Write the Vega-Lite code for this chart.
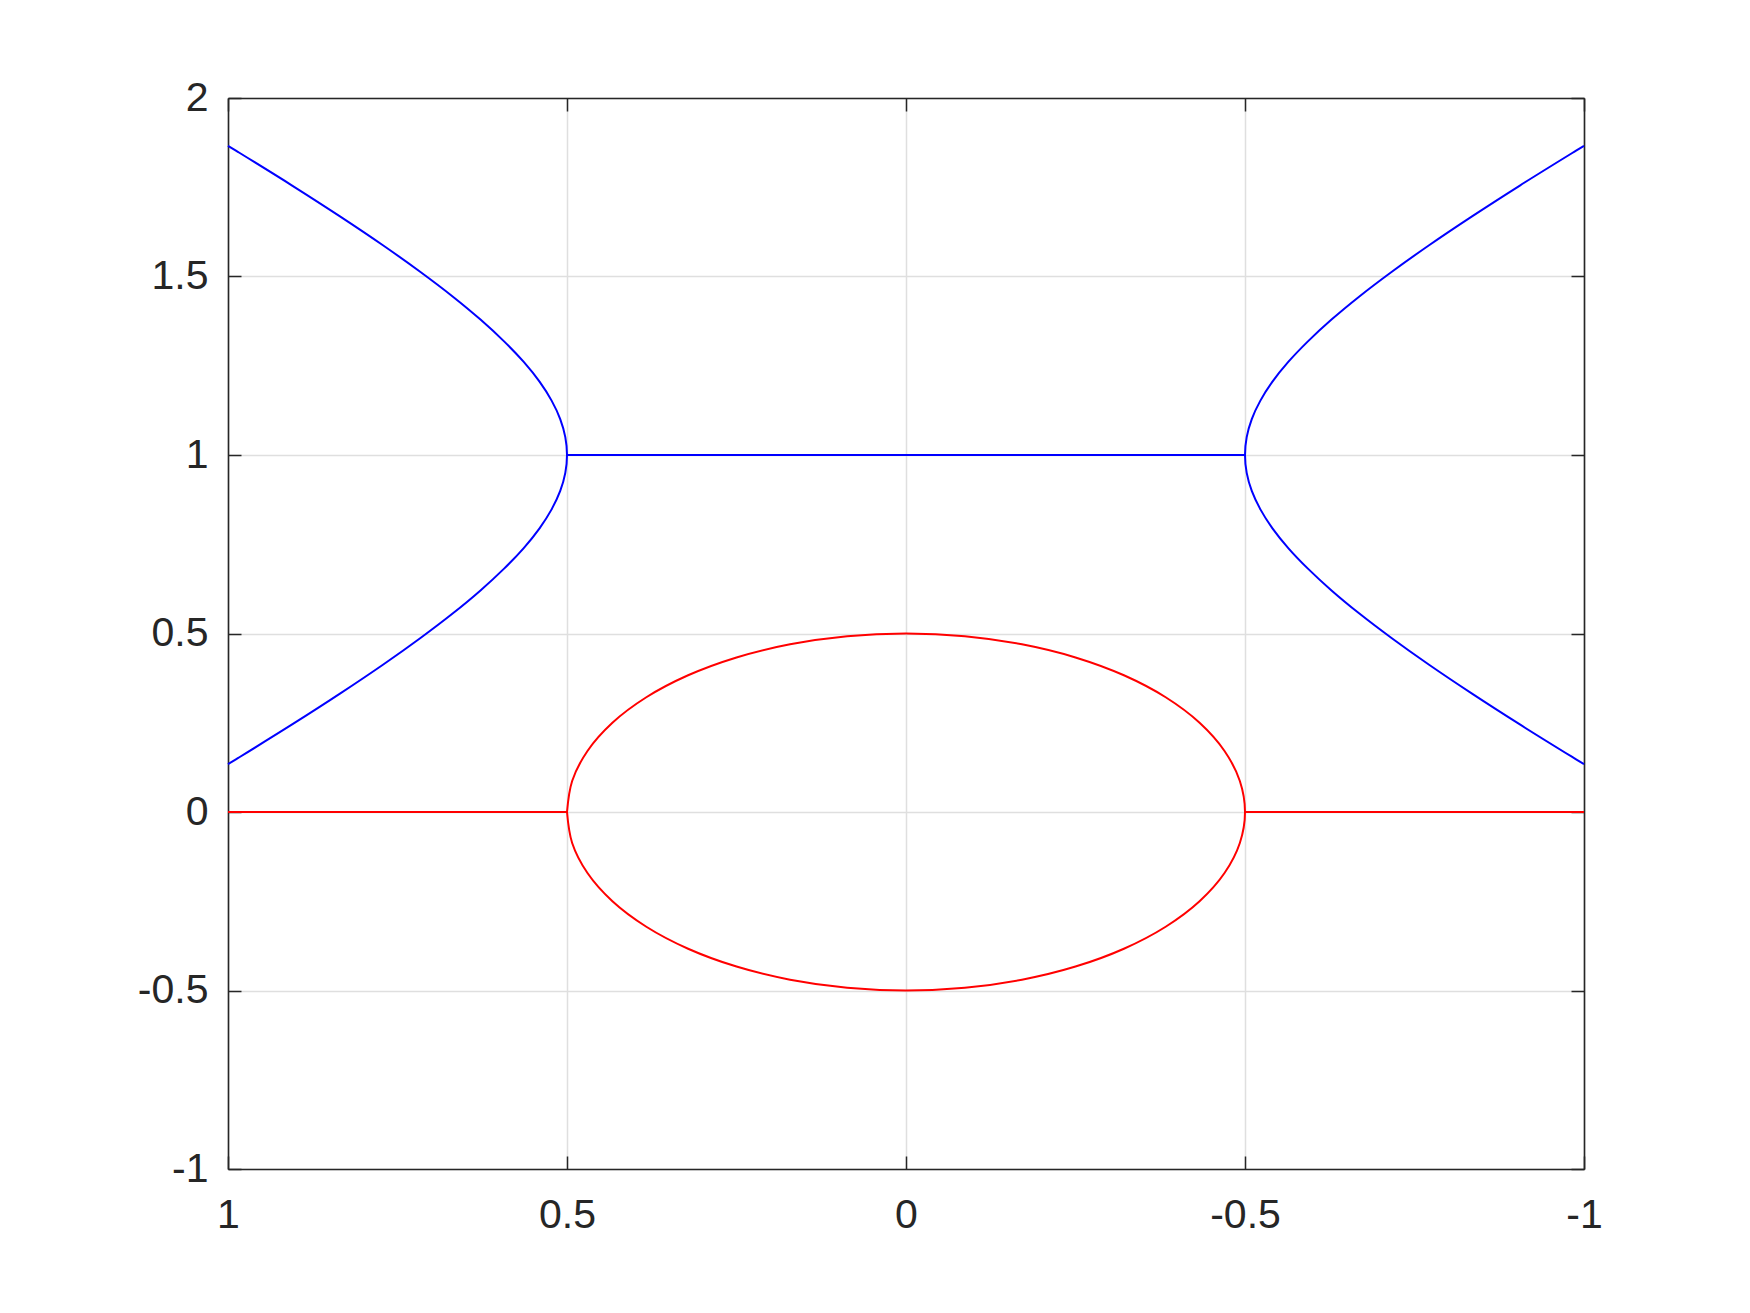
{
  "$schema": "https://vega.github.io/schema/vega-lite/v6.json",
  "width": 1356,
  "height": 1071,
  "autosize": {"type": "none"},
  "padding": {"left": 228, "top": 98, "right": 166, "bottom": 144},
  "background": "white",
  "config": {
    "view": {"stroke": null},
    "axis": {
      "domainColor": "#262626",
      "domainWidth": 1.6,
      "tickColor": "#262626",
      "tickWidth": 1.5,
      "tickSize": -13,
      "gridColor": "#dfdfdf",
      "gridWidth": 1.5,
      "labelFont": "Liberation Sans",
      "labelFontSize": 41,
      "labelColor": "#262626",
      "labelFlush": false,
      "labelOverlap": false,
      "labelBound": false,
      "title": null
    }
  },
  "datasets": {
    "red": [
      {"g": "c", "i": 0, "x": 0.5, "y": 0},
      {"g": "c", "i": 1, "x": 0.4924, "y": 0.0868},
      {"g": "c", "i": 2, "x": 0.4698, "y": 0.1710},
      {"g": "c", "i": 3, "x": 0.4330, "y": 0.25},
      {"g": "c", "i": 4, "x": 0.3830, "y": 0.3214},
      {"g": "c", "i": 5, "x": 0.3214, "y": 0.3830},
      {"g": "c", "i": 6, "x": 0.25, "y": 0.4330},
      {"g": "c", "i": 7, "x": 0.1710, "y": 0.4698},
      {"g": "c", "i": 8, "x": 0.0868, "y": 0.4924},
      {"g": "c", "i": 9, "x": 0, "y": 0.5},
      {"g": "c", "i": 10, "x": -0.0868, "y": 0.4924},
      {"g": "c", "i": 11, "x": -0.1710, "y": 0.4698},
      {"g": "c", "i": 12, "x": -0.25, "y": 0.4330},
      {"g": "c", "i": 13, "x": -0.3214, "y": 0.3830},
      {"g": "c", "i": 14, "x": -0.3830, "y": 0.3214},
      {"g": "c", "i": 15, "x": -0.4330, "y": 0.25},
      {"g": "c", "i": 16, "x": -0.4698, "y": 0.1710},
      {"g": "c", "i": 17, "x": -0.4924, "y": 0.0868},
      {"g": "c", "i": 18, "x": -0.5, "y": 0},
      {"g": "c", "i": 19, "x": -0.4924, "y": -0.0868},
      {"g": "c", "i": 20, "x": -0.4698, "y": -0.1710},
      {"g": "c", "i": 21, "x": -0.4330, "y": -0.25},
      {"g": "c", "i": 22, "x": -0.3830, "y": -0.3214},
      {"g": "c", "i": 23, "x": -0.3214, "y": -0.3830},
      {"g": "c", "i": 24, "x": -0.25, "y": -0.4330},
      {"g": "c", "i": 25, "x": -0.1710, "y": -0.4698},
      {"g": "c", "i": 26, "x": -0.0868, "y": -0.4924},
      {"g": "c", "i": 27, "x": 0, "y": -0.5},
      {"g": "c", "i": 28, "x": 0.0868, "y": -0.4924},
      {"g": "c", "i": 29, "x": 0.1710, "y": -0.4698},
      {"g": "c", "i": 30, "x": 0.25, "y": -0.4330},
      {"g": "c", "i": 31, "x": 0.3214, "y": -0.3830},
      {"g": "c", "i": 32, "x": 0.3830, "y": -0.3214},
      {"g": "c", "i": 33, "x": 0.4330, "y": -0.25},
      {"g": "c", "i": 34, "x": 0.4698, "y": -0.1710},
      {"g": "c", "i": 35, "x": 0.4924, "y": -0.0868},
      {"g": "c", "i": 36, "x": 0.5, "y": 0},
      {"g": "l", "i": 0, "x": 1, "y": 0},
      {"g": "l", "i": 1, "x": 0.5, "y": 0},
      {"g": "r", "i": 0, "x": -0.5, "y": 0},
      {"g": "r", "i": 1, "x": -1, "y": 0}
    ],
    "blue": [
      {"g": "L", "i": 0, "x": 1.0, "y": 0.1340},
      {"g": "L", "i": 1, "x": 0.9855, "y": 0.1508},
      {"g": "L", "i": 2, "x": 0.9054, "y": 0.2452},
      {"g": "L", "i": 3, "x": 0.8343, "y": 0.3322},
      {"g": "L", "i": 4, "x": 0.7715, "y": 0.4124},
      {"g": "L", "i": 5, "x": 0.7166, "y": 0.4867},
      {"g": "L", "i": 6, "x": 0.6687, "y": 0.5559},
      {"g": "L", "i": 7, "x": 0.6276, "y": 0.6207},
      {"g": "L", "i": 8, "x": 0.5928, "y": 0.6817},
      {"g": "L", "i": 9, "x": 0.5638, "y": 0.7394},
      {"g": "L", "i": 10, "x": 0.5405, "y": 0.7946},
      {"g": "L", "i": 11, "x": 0.5227, "y": 0.8477},
      {"g": "L", "i": 12, "x": 0.5100, "y": 0.8993},
      {"g": "L", "i": 13, "x": 0.5025, "y": 0.9499},
      {"g": "L", "i": 14, "x": 0.5, "y": 1},
      {"g": "L", "i": 15, "x": 0.5025, "y": 1.0501},
      {"g": "L", "i": 16, "x": 0.5100, "y": 1.1007},
      {"g": "L", "i": 17, "x": 0.5227, "y": 1.1523},
      {"g": "L", "i": 18, "x": 0.5405, "y": 1.2054},
      {"g": "L", "i": 19, "x": 0.5638, "y": 1.2606},
      {"g": "L", "i": 20, "x": 0.5928, "y": 1.3183},
      {"g": "L", "i": 21, "x": 0.6276, "y": 1.3793},
      {"g": "L", "i": 22, "x": 0.6687, "y": 1.4441},
      {"g": "L", "i": 23, "x": 0.7166, "y": 1.5133},
      {"g": "L", "i": 24, "x": 0.7715, "y": 1.5876},
      {"g": "L", "i": 25, "x": 0.8343, "y": 1.6678},
      {"g": "L", "i": 26, "x": 0.9054, "y": 1.7548},
      {"g": "L", "i": 27, "x": 0.9855, "y": 1.8492},
      {"g": "L", "i": 28, "x": 1.0, "y": 1.8660},
      {"g": "R", "i": 0, "x": -1.0, "y": 0.1340},
      {"g": "R", "i": 1, "x": -0.9855, "y": 0.1508},
      {"g": "R", "i": 2, "x": -0.9054, "y": 0.2452},
      {"g": "R", "i": 3, "x": -0.8343, "y": 0.3322},
      {"g": "R", "i": 4, "x": -0.7715, "y": 0.4124},
      {"g": "R", "i": 5, "x": -0.7166, "y": 0.4867},
      {"g": "R", "i": 6, "x": -0.6687, "y": 0.5559},
      {"g": "R", "i": 7, "x": -0.6276, "y": 0.6207},
      {"g": "R", "i": 8, "x": -0.5928, "y": 0.6817},
      {"g": "R", "i": 9, "x": -0.5638, "y": 0.7394},
      {"g": "R", "i": 10, "x": -0.5405, "y": 0.7946},
      {"g": "R", "i": 11, "x": -0.5227, "y": 0.8477},
      {"g": "R", "i": 12, "x": -0.5100, "y": 0.8993},
      {"g": "R", "i": 13, "x": -0.5025, "y": 0.9499},
      {"g": "R", "i": 14, "x": -0.5, "y": 1},
      {"g": "R", "i": 15, "x": -0.5025, "y": 1.0501},
      {"g": "R", "i": 16, "x": -0.5100, "y": 1.1007},
      {"g": "R", "i": 17, "x": -0.5227, "y": 1.1523},
      {"g": "R", "i": 18, "x": -0.5405, "y": 1.2054},
      {"g": "R", "i": 19, "x": -0.5638, "y": 1.2606},
      {"g": "R", "i": 20, "x": -0.5928, "y": 1.3183},
      {"g": "R", "i": 21, "x": -0.6276, "y": 1.3793},
      {"g": "R", "i": 22, "x": -0.6687, "y": 1.4441},
      {"g": "R", "i": 23, "x": -0.7166, "y": 1.5133},
      {"g": "R", "i": 24, "x": -0.7715, "y": 1.5876},
      {"g": "R", "i": 25, "x": -0.8343, "y": 1.6678},
      {"g": "R", "i": 26, "x": -0.9054, "y": 1.7548},
      {"g": "R", "i": 27, "x": -0.9855, "y": 1.8492},
      {"g": "R", "i": 28, "x": -1.0, "y": 1.8660},
      {"g": "M", "i": 0, "x": 0.5, "y": 1},
      {"g": "M", "i": 1, "x": -0.5, "y": 1}
    ]
  },
  "layer": [
    {
      "data": {"name": "red"},
      "mark": {"type": "line", "color": "#ff0000", "strokeWidth": 2, "interpolate": "catmull-rom"},
      "encoding": {
        "x": {
          "field": "x", "type": "quantitative",
          "scale": {"domain": [-1, 1], "reverse": true, "nice": false, "zero": false},
          "axis": {"orient": "bottom", "values": [1, 0.5, 0, -0.5, -1], "grid": true, "labelPadding": 39, "labelExpr": "toString(datum.value)"}
        },
        "y": {
          "field": "y", "type": "quantitative",
          "scale": {"domain": [-1, 2], "nice": false, "zero": false},
          "axis": {"orient": "left", "values": [-1, -0.5, 0, 0.5, 1, 1.5, 2], "grid": true, "labelPadding": 33, "labelExpr": "toString(datum.value)"}
        },
        "detail": {"field": "g"},
        "order": {"field": "i", "type": "quantitative"}
      }
    },
    {
      "data": {"name": "blue"},
      "mark": {"type": "line", "color": "#0000ff", "strokeWidth": 2, "interpolate": "catmull-rom"},
      "encoding": {
        "x": {
          "field": "x", "type": "quantitative",
          "axis": {"orient": "top", "values": [1, 0.5, 0, -0.5, -1], "grid": false, "labels": false}
        },
        "y": {
          "field": "y", "type": "quantitative",
          "axis": {"orient": "right", "values": [-1, -0.5, 0, 0.5, 1, 1.5, 2], "grid": false, "labels": false}
        },
        "detail": {"field": "g"},
        "order": {"field": "i", "type": "quantitative"}
      }
    }
  ],
  "resolve": {"axis": {"x": "independent", "y": "independent"}}
}
